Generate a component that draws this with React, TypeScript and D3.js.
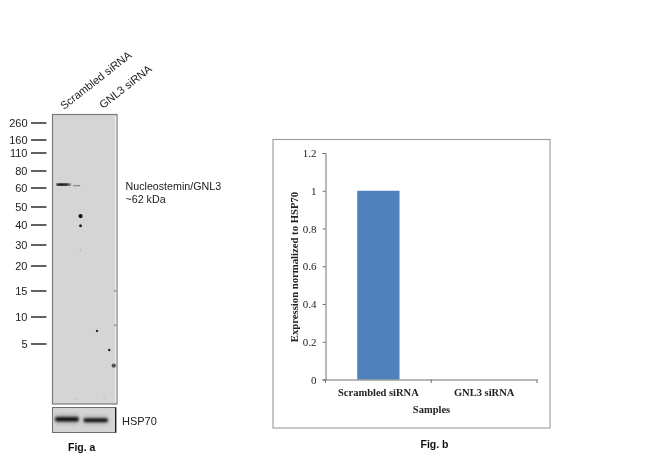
import { useEffect, useRef } from "react"
import * as d3 from "d3"

// Fig. a - western blot
const ladderLabels = [260, 160, 110, 80, 60, 50, 40, 30, 20, 15, 10, 5]
const laneLabels = ["Scrambled siRNA", "GNL3 siRNA"]
// lane position in % of blot width, apparent size in kDa
const blotBands = [
  { from: 6, to: 29, kda: 63.6, thick: 2.6 },
  { from: 32, to: 43, kda: 62.5, thick: 1.3 },
]
const blotSpots = [
  { lane: 43.5, kda: 44.7, r: 2.1, shade: "#0c0c0c" },
  { lane: 43.5, kda: 39.6, r: 1.5, shade: "#222222" },
  { lane: 43, kda: 27.2, r: 0.8, shade: "#a8a8a8" },
  { lane: 69, kda: 7, r: 1.2, shade: "#2a2a2a" },
  { lane: 88, kda: 4.29, r: 1.2, shade: "#1c1c1c" },
  { lane: 95, kda: 2.87, r: 2.2, shade: "#555555" },
  { lane: 97, kda: 15, r: 1.3, shade: "#a6a6a6" },
  { lane: 97, kda: 8.1, r: 1.3, shade: "#a6a6a6" },
  { lane: 35, kda: 1.2, r: 0.9, shade: "#bcbcbc" },
  { lane: 80, kda: 1.25, r: 0.9, shade: "#bcbcbc" },
]
const hspBands = [
  { from: 4.7, to: 41, level: 53, thick: 4 },
  { from: 49.6, to: 87, level: 49, thick: 3.4 },
]

// Fig. b - bar chart
const samples = ["Scrambled siRNA", "GNL3 siRNA"]
const expression = [1, 0]
const yTicks = [0, 0.2, 0.4, 0.6, 0.8, 1, 1.2]

const SANS = "'Liberation Sans', Arial, sans-serif"
const SERIF = "'Liberation Serif', 'Times New Roman', serif"

function App() {
  const ref = useRef<SVGSVGElement>(null)

  useEffect(() => {
    const svg = d3.select(ref.current)
    svg.selectAll("*").remove()

    const defs = svg.append("defs")
    const blur = (id: string, sd: number) =>
      defs.append("filter").attr("id", id)
        .attr("x", "-30%").attr("y", "-200%").attr("width", "160%").attr("height", "500%")
        .append("feGaussianBlur").attr("stdDeviation", sd)
    blur("soft", 0.7)
    blur("hspSoft", 0.8)
    blur("halo", 2.2)
    defs.append("filter").attr("id", "spotSoft")
      .attr("x", "-100%").attr("y", "-100%").attr("width", "300%").attr("height", "300%")
      .append("feGaussianBlur").attr("stdDeviation", 0.5)
    defs.append("filter").attr("id", "textSoft")
      .attr("x", "-5%").attr("y", "-5%").attr("width", "110%").attr("height", "110%")
      .append("feGaussianBlur").attr("stdDeviation", 0.3)
    const fade = defs.append("linearGradient").attr("id", "bandFade")
    fade.append("stop").attr("offset", "0%").attr("stop-color", "#555555")
    fade.append("stop").attr("offset", "25%").attr("stop-color", "#1c1c1c")
    fade.append("stop").attr("offset", "70%").attr("stop-color", "#333333")
    fade.append("stop").attr("offset", "100%").attr("stop-color", "#a0a0a0")

    // ---- Fig. a ----
    const blot = svg.append("g").attr("filter", "url(#textSoft)")
    const kdaY = d3.scaleLog()
      .domain(ladderLabels)
      .range([123, 140, 153, 171, 188, 207, 225, 245, 266, 291, 317, 344])
    const laneX = d3.scaleLinear().domain([0, 100]).range([52.5, 117])

    blot.append("rect")
      .attr("x", laneX(0)).attr("y", 114.5)
      .attr("width", laneX(100) - laneX(0)).attr("height", 289.5)
      .attr("fill", "#d5d5d5").attr("stroke", "#7a7a7a").attr("stroke-width", 1.2)
    blot.append("line")
      .attr("x1", laneX(98)).attr("x2", laneX(98)).attr("y1", 116).attr("y2", 403)
      .attr("stroke", "#f8f8f8").attr("stroke-width", 1)

    blot.selectAll(".band").data(blotBands).enter().append("rect")
      .attr("class", "band")
      .attr("x", d => laneX(d.from))
      .attr("y", d => kdaY(d.kda) - d.thick / 2)
      .attr("width", d => laneX(d.to) - laneX(d.from))
      .attr("height", d => d.thick)
      .attr("fill", (d, i) => (i === 0 ? "url(#bandFade)" : "#8a8a8a"))
      .attr("filter", "url(#soft)")

    blot.selectAll(".spot").data(blotSpots).enter().append("circle")
      .attr("class", "spot")
      .attr("cx", d => laneX(d.lane))
      .attr("cy", d => kdaY(d.kda))
      .attr("r", d => d.r)
      .attr("fill", d => d.shade)
      .attr("filter", "url(#spotSoft)")

    const ladder = blot.selectAll(".ladder").data(ladderLabels).enter().append("g")
      .attr("class", "ladder")
      .attr("transform", d => `translate(0, ${kdaY(d)})`)
    ladder.append("line")
      .attr("x1", 31).attr("x2", 46.5)
      .attr("stroke", "#2e2e2e").attr("stroke-width", 1.5)
    ladder.append("text")
      .attr("x", 27.5).attr("dy", "0.35em")
      .attr("text-anchor", "end")
      .attr("font-family", SANS).attr("font-size", 11).attr("fill", "#222222")
      .text(d => d)

    // lane names
    blot.selectAll(".lane").data(laneLabels).enter().append("text")
      .attr("class", "lane")
      .attr("transform", (d, i) => `translate(${[64, 103][i]}, ${[110, 109][i]}) rotate(-38)`)
      .attr("font-family", SANS).attr("font-size", 11).attr("fill", "#222222")
      .text(d => d)

    blot.append("text").attr("x", 125.5).attr("y", 190)
      .attr("font-family", SANS).attr("font-size", 10.7).attr("fill", "#222222")
      .text("Nucleostemin/GNL3")
    blot.append("text").attr("x", 125.5).attr("y", 203)
      .attr("font-family", SANS).attr("font-size", 10.7).attr("fill", "#222222")
      .text("~62 kDa")

    // loading control
    const hspX = d3.scaleLinear().domain([0, 100]).range([52.5, 115.7])
    const hspY = d3.scaleLinear().domain([0, 100]).range([432.5, 407.5])
    blot.append("rect")
      .attr("x", hspX(0)).attr("y", hspY(100))
      .attr("width", hspX(100) - hspX(0)).attr("height", hspY(0) - hspY(100))
      .attr("fill", "#d4d4d4").attr("stroke", "#6e6e6e").attr("stroke-width", 1)
    blot.selectAll(".hspHalo").data(hspBands).enter().append("rect")
      .attr("class", "hspHalo")
      .attr("x", d => hspX(d.from))
      .attr("y", d => hspY(d.level) - d.thick)
      .attr("width", d => hspX(d.to) - hspX(d.from))
      .attr("height", d => d.thick * 2)
      .attr("fill", "#9a9a9a")
      .attr("filter", "url(#halo)")
    blot.selectAll(".hsp").data(hspBands).enter().append("rect")
      .attr("class", "hsp")
      .attr("x", d => hspX(d.from))
      .attr("y", d => hspY(d.level) - d.thick / 2)
      .attr("width", d => hspX(d.to) - hspX(d.from))
      .attr("height", d => d.thick)
      .attr("fill", "#0a0a0a")
      .attr("filter", "url(#hspSoft)")
    blot.append("line")
      .attr("x1", hspX(100)).attr("x2", hspX(100)).attr("y1", hspY(100)).attr("y2", hspY(0))
      .attr("stroke", "#111111").attr("stroke-width", 1.2)
    blot.append("text").attr("x", 122).attr("y", 425)
      .attr("font-family", SANS).attr("font-size", 11).attr("fill", "#222222")
      .text("HSP70")
    blot.append("text").attr("x", 68).attr("y", 451)
      .attr("font-family", SANS).attr("font-size", 10.5).attr("font-weight", "bold").attr("fill", "#111111")
      .text("Fig. a")

    // ---- Fig. b ----
    const chart = svg.append("g").attr("filter", "url(#textSoft)")
    chart.append("rect")
      .attr("x", 273).attr("y", 139.5).attr("width", 277).attr("height", 288.5)
      .attr("fill", "#ffffff").attr("stroke", "#999999").attr("stroke-width", 1.1)

    const x = d3.scaleBand().domain(samples).range([325.5, 537]).paddingInner(0.6).paddingOuter(0.3)
    const y = d3.scaleLinear().domain([0, 1.2]).range([379.5, 153])

    chart.selectAll(".bar").data(samples).enter().append("rect")
      .attr("class", "bar")
      .attr("x", d => x(d) as number)
      .attr("y", (d, i) => y(expression[i]))
      .attr("width", x.bandwidth())
      .attr("height", (d, i) => y(0) - y(expression[i]))
      .attr("fill", "#4f81bd")

    const yAxis = chart.append("g")
      .attr("transform", "translate(325.5, 0)")
      .call(d3.axisLeft(y).tickValues(yTicks).tickFormat(d => String(d)).tickSize(3).tickPadding(6))
    yAxis.select(".domain").attr("stroke", "#707070")
    yAxis.selectAll(".tick line").attr("stroke", "#707070")
    yAxis.selectAll("text")
      .attr("font-family", SERIF).attr("font-size", 11).attr("fill", "#222222")

    const xAxis = chart.append("g")
      .attr("transform", "translate(0, 379.5)")
      .call(d3.axisBottom(x).tickSize(0).tickPadding(9))
    xAxis.select(".domain").attr("stroke", "#707070")
    xAxis.selectAll("text")
      .attr("font-family", SERIF).attr("font-size", 10.5).attr("font-weight", "bold").attr("fill", "#222222")

    // category boundaries, the axis itself only ticks band centres
    chart.selectAll(".sep").data(d3.range(samples.length + 1)).enter().append("line")
      .attr("class", "sep")
      .attr("x1", d => 325.5 + d * x.step()).attr("x2", d => 325.5 + d * x.step())
      .attr("y1", 379.5).attr("y2", 383)
      .attr("stroke", "#707070")

    chart.append("text")
      .attr("x", 431.5).attr("y", 412.5)
      .attr("text-anchor", "middle")
      .attr("font-family", SERIF).attr("font-size", 10.5).attr("font-weight", "bold").attr("fill", "#222222")
      .text("Samples")
    chart.append("text")
      .attr("transform", "translate(298, 267) rotate(-90)")
      .attr("text-anchor", "middle")
      .attr("font-family", SERIF).attr("font-size", 10.7).attr("font-weight", "bold").attr("fill", "#222222")
      .text("Expression normalized to HSP70")
    chart.append("text")
      .attr("x", 420.5).attr("y", 448)
      .attr("font-family", SANS).attr("font-size", 10.5).attr("font-weight", "bold").attr("fill", "#111111")
      .text("Fig. b")
  }, [])

  return (
    <svg ref={ref} width="650" height="460" style={{ position: "absolute", left: 0, top: 0, background: "#ffffff" }}></svg>
  )
}

export default App
